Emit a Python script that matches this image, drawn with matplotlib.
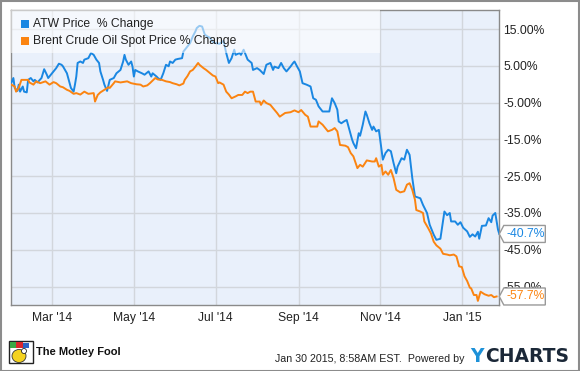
import numpy as np
import matplotlib
matplotlib.use("Agg")
import matplotlib.pyplot as plt
import matplotlib.dates as mdates
from matplotlib.patches import Rectangle, Polygon, Ellipse
from matplotlib.transforms import IdentityTransform

plt.rcParams['font.family'] = ['Liberation Sans', 'DejaVu Sans']

start = np.datetime64('2014-01-29')

# ATW price % change (days since start, value)
atw_days = [0, 2, 3, 5, 6, 7, 9, 10, 12, 13, 15, 17, 18, 20, 23, 25, 27, 28, 30, 32,
            34, 36, 38, 39, 42, 43, 45, 47, 48, 49, 50, 52, 54, 55, 58, 60, 62, 64, 66, 67,
            69, 70, 72, 74, 77, 79, 82, 84, 85, 86, 88, 90, 91, 92, 93, 95, 98, 100, 103, 105,
            106, 109, 110, 112, 114, 116, 118, 119, 121, 123, 125, 128, 129, 131, 134, 136, 138, 139, 141, 143,
            145, 147, 149, 151, 153, 156, 159, 161, 163, 165, 167, 168, 171, 172, 174, 175, 177, 180, 181, 184,
            186, 189, 191, 194, 196, 197, 200, 202, 204, 206, 209, 211, 212, 214, 216, 218, 221, 224, 226, 228,
            230, 233, 235, 238, 240, 242, 244, 245, 247, 249, 251, 253, 255, 256, 258, 260, 261, 263, 265, 266,
            268, 270, 271, 273, 275, 276, 278, 280, 282, 284, 286, 288, 289, 292, 294, 296, 298, 300, 302, 306,
            308, 311, 313, 316, 318, 321, 322, 324, 326, 328, 329, 332, 334, 336, 338, 341, 343, 345, 347, 349,
            350, 352, 355, 357, 359, 360, 362, 364, 365]
atw_pct = [0.0, 1.7, -1.0, -1.8, -0.1, -2.0, -0.6, -2.0, -2.2, 1.2, 1.7, 0.8, 1.2, 0.5, 1.7, 4.1, 2.6, 1.7, 2.6, 3.5,
           4.4, 5.6, 5.3, 4.9, 3.0, 1.7, -1.0, -2.0, -0.1, 2.1, 5.8, 6.2, 5.8, 6.7, 7.1, 8.5, 8.0, 6.7, 5.8, 3.5,
           1.2, -0.1, -1.8, 1.2, 1.7, 3.0, 3.9, 6.2, 8.0, 6.7, 5.3, 6.2, 4.8, 2.1, 3.9, 3.5, 3.0, 2.6, 3.5, 2.1,
           3.0, 2.1, 1.7, 1.2, 3.0, 5.3, 4.9, 6.2, 5.8, 6.7, 6.9, 7.1, 8.9, 9.8, 11.2, 13.0, 14.4, 15.3, 15.9, 15.7,
           13.5, 13.0, 12.6, 11.5, 11.2, 11.0, 11.8, 8.5, 5.8, 7.1, 9.4, 8.0, 8.5, 8.0, 9.4, 8.5, 6.7, 5.8, 3.9, 4.4,
           3.9, 2.8, 5.3, 5.8, 3.9, 4.8, 4.4, 5.8, 4.4, 3.5, 4.8, 5.8, 6.2, 4.8, 3.5, 0.3, -0.1, -0.6, -3.8, -4.2,
           -6.0, -7.4, -7.4, -7.4, -3.8, -5.1, -6.9, -10.1, -10.6, -10.1, -9.7, -12.4, -15.0, -16.0, -17.4, -13.3, -14.0, -11.0, -7.4, -8.3,
           -10.6, -12.4, -11.5, -12.8, -12.4, -15.0, -20.5, -18.7, -17.8, -18.2, -21.4, -24.2, -22.4, -20.1, -20.5, -17.8, -19.2, -25.5, -30.5, -31.0,
           -32.8, -35.0, -38.2, -40.9, -42.3, -42.0, -39.6, -34.6, -35.6, -35.0, -37.3, -37.3, -38.2, -37.5, -39.0, -40.0, -41.5, -40.8, -41.4, -40.1,
           -42.0, -38.5, -38.4, -36.4, -37.5, -35.7, -35.0, -39.5, -40.7]

# Brent crude oil spot price % change
brent_days = [0, 3, 4, 6, 8, 13, 14, 17, 19, 22, 26, 29, 32, 34, 37, 39, 42, 44, 47, 49,
              52, 55, 58, 62, 63, 65, 67, 70, 73, 74, 77, 78, 82, 87, 90, 94, 97, 99, 102, 104,
              108, 110, 113, 116, 119, 121, 124, 126, 129, 130, 132, 134, 136, 138, 140, 141, 144, 146, 149, 151,
              153, 155, 156, 159, 161, 163, 165, 168, 170, 173, 175, 177, 179, 181, 183, 186, 187, 189, 191, 194,
              196, 199, 201, 205, 209, 212, 215, 217, 220, 222, 224, 229, 230, 233, 237, 240, 242, 244, 246, 250,
              252, 254, 256, 259, 261, 263, 266, 270, 272, 273, 275, 277, 278, 280, 282, 284, 286, 288, 291, 294,
              296, 298, 300, 302, 303, 306, 308, 309, 312, 314, 316, 318, 321, 323, 326, 328, 331, 333, 335, 337,
              339, 341, 343, 344, 346, 348, 349, 351, 354, 357, 359, 361, 363]
brent_pct = [0.0, -0.6, -2.0, -1.0, 1.2, 1.2, 0.5, -0.1, 0.8, 0.3, 0.8, -0.1, 0.6, 0.3, -0.6, -0.8, -1.5, -1.8, -2.6, -2.4,
             -2.8, -2.0, -2.6, -2.4, -4.7, -2.9, -2.2, -1.5, -0.8, -1.0, 0.3, 0.8, 0.5, 0.8, 0.3, 0.0, -0.1, -0.6, -0.3, 0.3,
             1.7, 1.3, 1.2, 0.8, 0.6, 0.3, 0.0, -0.3, 0.2, 1.2, 2.2, 3.5, 3.9, 4.8, 5.8, 5.3, 4.4, 3.9, 3.0, 2.4,
             2.1, 0.3, 0.5, -0.1, -2.0, -2.8, -3.8, -3.3, -2.9, -2.9, -2.0, -2.4, -2.0, -2.0, -4.7, -4.7, -5.6, -4.4, -5.1, -5.6,
             -6.5, -7.8, -8.8, -7.8, -7.6, -7.1, -7.6, -7.0, -8.3, -8.8, -11.5, -11.5, -10.1, -11.0, -12.8, -12.4, -11.9, -12.8, -16.5, -16.7,
             -17.1, -18.7, -19.6, -22.8, -21.9, -22.4, -20.7, -21.0, -21.0, -20.1, -22.4, -21.9, -24.6, -23.7, -24.6, -23.3, -25.5, -28.7, -29.4, -29.1,
             -27.3, -26.9, -28.7, -31.4, -34.2, -34.6, -35.0, -37.3, -39.2, -40.6, -42.8, -43.8, -44.7, -46.1, -46.3, -46.5, -46.3, -46.8, -49.5, -49.7,
             -52.2, -53.5, -55.3, -55.5, -57.3, -57.3, -58.9, -56.4, -57.1, -57.5, -57.3, -57.9, -57.7]

series_names = ["ATW Price  % Change", "Brent Crude Oil Spot Price % Change"]
end_labels = ["-40.7%", "-57.7%"]
y_ticks = [15, 5, -5, -15, -25, -35, -45, -55]
y_tick_labels = ["15.00%", "5.00%", "-5.00%", "-15.0%", "-25.0%", "-35.0%", "-45.0%", "-55.0%"]
x_ticks = ['2014-03-01', '2014-05-01', '2014-07-01', '2014-09-01', '2014-11-01', '2015-01-01']
x_tick_labels = ["Mar '14", "May '14", "Jul '14", "Sep '14", "Nov '14", "Jan '15"]

blue = '#1a87e2'
orange = '#fb8411'
W, H = 580, 371

fig = plt.figure(figsize=(W / 100, H / 100), dpi=100)
ax = fig.add_axes([10.7 / W, 1 - 305.3 / H, 488.6 / W, 295.3 / H])
ax.set_facecolor('#e9f0fb')

atw_x = start + np.array(atw_days).astype('timedelta64[D]')
brent_x = start + np.array(brent_days).astype('timedelta64[D]')
ax.plot(atw_x, atw_pct, color=blue, lw=1.4, zorder=3)
ax.plot(brent_x, brent_pct, color=orange, lw=1.4, zorder=3)

ax.set_xlim(start, start + np.timedelta64(365, 'D'))
ax.set_ylim(-60.1, 20.2)
ax.set_xticks([np.datetime64(d) for d in x_ticks])
ax.set_xticklabels(x_tick_labels)
ax.set_yticks(y_ticks)
ax.set_yticklabels(y_tick_labels)
ax.yaxis.tick_right()
ax.tick_params(axis='both', length=0, labelsize=8.7, colors='#222222')
ax.tick_params(axis='y', pad=3)
ax.tick_params(axis='x', pad=5)
ax.grid(True, color='#d2d6dc', lw=1)
ax.set_axisbelow(True)
for s in ax.spines.values():
    s.set_color('#8a8a8a')
    s.set_linewidth(1)

# legend overlay
ax.add_patch(Rectangle((0, 1 - 43 / 295.3), 369.3 / 488.6, 43 / 295.3, transform=ax.transAxes,
                       facecolor='white', alpha=0.55, edgecolor='none', zorder=4))
for i, (name, col) in enumerate(zip(series_names, [blue, orange])):
    yc = 24 + i * 17
    fig.patches.append(Rectangle((21 / W, 1 - (yc + 4) / H), 8 / W, 8 / H, transform=fig.transFigure,
                                 facecolor=col, edgecolor='none', zorder=5))
    fig.text(33 / W, 1 - yc / H, name, fontsize=8.7, color='#222222', va='center', ha='left', zorder=5)

# end value tags
fig.canvas.draw()
for days, vals, lab, col in [(atw_days, atw_pct, end_labels[0], blue), (brent_days, brent_pct, end_labels[1], orange)]:
    px, py = ax.transData.transform((mdates.date2num(start + np.timedelta64(days[-1], 'D')), vals[-1]))
    x0 = ax.transAxes.transform((1, 0))[0]
    hh = 8.5
    tag = Polygon([(x0, py), (x0 + 4.5, py + hh), (x0 + 46, py + hh), (x0 + 46, py - hh), (x0 + 4.5, py - hh)],
                  closed=True, transform=IdentityTransform(), facecolor='white', edgecolor='#999999', lw=1, zorder=6)
    fig.patches.append(tag)
    fig.text((x0 + 26) / W, py / H, lab, color=col, fontsize=8.7, ha='center', va='center', zorder=7)

# footer
fig.text(275 / W, 1 - 358.5 / H, "Jan 30 2015, 8:58AM EST.  Powered by", fontsize=7.7, color='#222222',
         ha='left', va='center')
fig.text(470 / W, 1 - 357 / H, "Y", fontsize=13.5, fontweight='bold', color='#1d91d8', ha='left', va='center',
         family='DejaVu Sans')
fig.text(485 / W, 1 - 357 / H, "CHARTS", fontsize=13.5, fontweight='bold', color='#1b2838', ha='left', va='center',
         family='DejaVu Sans')

fig.text(36 / W, 1 - 352 / H, "The Motley Fool", fontsize=8, fontweight='bold', color='#111111',
         ha='left', va='center')
# jester logo (simplified)
fig.patches.append(Rectangle((8.5 / W, 1 - 363 / H), 24 / W, 22 / H, transform=fig.transFigure,
                             facecolor='white', edgecolor='#222222', lw=1, zorder=2))
fig.patches.append(Ellipse((19 / W, 1 - 356 / H), 14 / W, 13 / H, transform=fig.transFigure,
                           facecolor='#f4d21f', edgecolor='#333333', lw=0.6, zorder=3))
fig.patches.append(Rectangle((10 / W, 1 - 348 / H), 6 / W, 6 / H, transform=fig.transFigure,
                             facecolor='#3aa845', edgecolor='none', zorder=3))
fig.patches.append(Rectangle((16 / W, 1 - 348 / H), 7 / W, 6 / H, transform=fig.transFigure,
                             facecolor='#d9262b', edgecolor='none', zorder=3))
fig.patches.append(Rectangle((23 / W, 1 - 348 / H), 6 / W, 5 / H, transform=fig.transFigure,
                             facecolor='#2a62c4', edgecolor='none', zorder=3))
fig.patches.append(Ellipse((24 / W, 1 - 351 / H), 5 / W, 5 / H, transform=fig.transFigure,
                           facecolor='white', edgecolor='#222222', lw=0.6, zorder=4))

# outer frame
fig.patches.append(Rectangle((0.5 / W, 0.5 / H), (W - 1.5) / W, (H - 1.5) / H, transform=fig.transFigure,
                             facecolor='none', edgecolor='#8c8c8c', lw=1.5, zorder=10))

fig.savefig('out.png', dpi=100)
